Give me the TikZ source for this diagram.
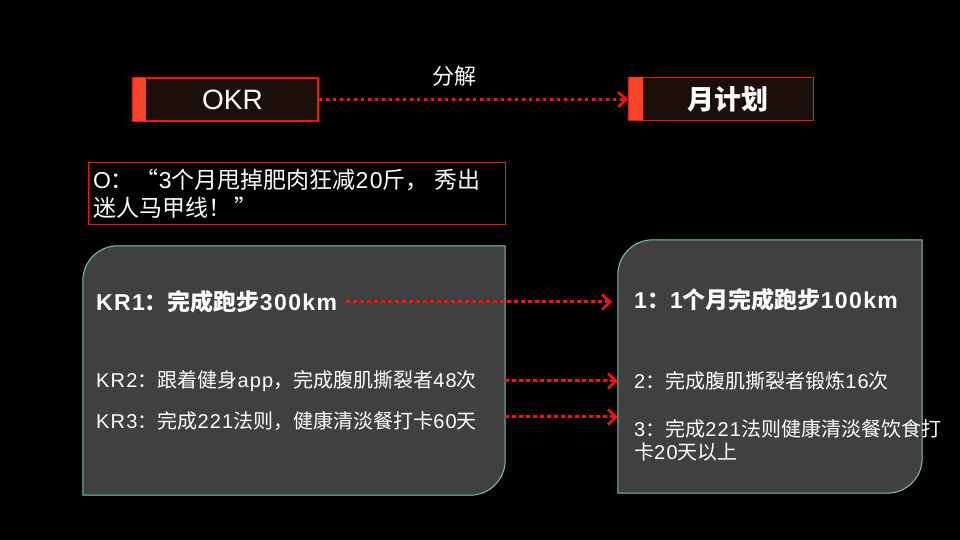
\documentclass[tikz,border=0pt]{standalone}
\usepackage{fontspec}
\setmainfont{Liberation Sans}[LetterSpace=6]
\newfontfamily\cjk{Noto Sans CJK SC}
\usetikzlibrary{positioning, arrows.meta, calc}
\definecolor{okrRed}{HTML}{FF1010}
\definecolor{stripRed}{HTML}{F4452B}
\definecolor{headFill}{HTML}{1C0E0A}
\definecolor{panelFill}{HTML}{404040}
\definecolor{panelEdge}{HTML}{7CC2BB}
\definecolor{arrowRed}{HTML}{FF0F0F}
\tikzset{
  headbox/.style={draw=okrRed, fill=headFill, line width=1.2pt,
    minimum width=185pt, minimum height=43pt, inner sep=0pt,
    text=white, font=\bfseries\fontsize{27}{30}\selectfont},
  obox/.style={draw=okrRed, fill=black, line width=1pt,
    minimum width=417pt, minimum height=62pt, inner xsep=5pt,
    text=white, align=left, font=\fontsize{23}{28}\selectfont},
  geom/.style={minimum width=#1, inner sep=0pt, draw=none},
  panel/.style={draw=panelEdge, fill=panelFill, line width=1pt},
  bigtxt/.style={anchor=west, inner sep=0pt, text=white,
    font=\bfseries\fontsize{23}{26}\selectfont},
  smalltxt/.style={anchor=west, inner sep=0pt, text=white, align=left,
    font=\fontsize{20}{23}\selectfont},
  dotarrow/.style={draw=arrowRed, line width=3pt, line cap=butt,
    dash pattern=on 3.5pt off 3.5pt,
    -{Straight Barb[length=8pt, width=15pt, line width=2.5pt]}},
}

\begin{document}
\begin{tikzpicture}[x=1pt, y=1pt]

  % background, fixes the page size
  \fill[black] (0,0) rectangle (960,540);

  % === Top row: OKR -> monthly plan ===
  \node[headbox, font=\mdseries\fontsize{28}{30}\selectfont\addfontfeatures{LetterSpace=0}] (okr) at (225.5,440.5) {\hspace*{14pt}OKR};
  \node[headbox] (plan) at (721,441) {\hspace*{14pt}\cjk 月计划};
  \fill[stripRed] ([shift={(0.6pt,-0.6pt)}]okr.north west) rectangle ([shift={(14pt,0.6pt)}]okr.south west);
  \fill[stripRed] ([shift={(0.6pt,-0.6pt)}]plan.north west) rectangle ([shift={(15pt,0.6pt)}]plan.south west);

  \draw[dotarrow] (okr.east) -- (okr.east -| plan.west)
    node[pos=0.44, above=8pt, text=white, font=\fontsize{22}{24}\selectfont] (split) {\cjk 分解};

  % === Objective ===
  \node[obox, text width=407pt] (obj) at (296.5,346) {%
    O{\cjk ：\hspace{2pt}“}3{\cjk 个月甩掉肥肉狂减}20{\cjk 斤，\hspace{6pt}秀出}\\
    {\cjk 迷人马甲线！\hspace{4pt}”}};

  % === Left panel: key results ===
  \node[geom=422pt, minimum height=249pt] (krpanel) at (294,169.5) {};
  \draw[panel] ([yshift=-35pt]krpanel.north west) arc[start angle=180, end angle=90, radius=35pt]
    -- (krpanel.north east) -- ([yshift=35pt]krpanel.south east)
    arc[start angle=0, end angle=-90, radius=35pt] -- (krpanel.south west) -- cycle;

  \node[bigtxt] (kr1) at (96,238) {KR1{\cjk ：完成跑步}300km};
  \node[smalltxt] (kr2) at (96,159) {KR2{\cjk ：跟着健身}app{\cjk ，完成腹肌撕裂者}48{\cjk 次}};
  \node[smalltxt] (kr3) at (96,119) {KR3{\cjk ：完成}221{\cjk 法则，健康清淡餐打卡}60{\cjk 天}};

  % === Right panel: monthly plan ===
  \node[geom=304pt, minimum height=253pt] (mpanel) at (770,173.5) {};
  \draw[panel] ([yshift=-35pt]mpanel.north west) arc[start angle=180, end angle=90, radius=35pt]
    -- (mpanel.north east) -- ([yshift=35pt]mpanel.south east)
    arc[start angle=0, end angle=-90, radius=35pt] -- (mpanel.south west) -- cycle;

  \node[bigtxt] (m1) at (634,240) {1{\cjk ：}1{\cjk 个月完成跑步}100km};
  \node[smalltxt] (m2) at (634,159) {2{\cjk ：完成腹肌撕裂者锻炼}16{\cjk 次}};
  \node[smalltxt] (m3) at (634,100) {3{\cjk ：完成}221{\cjk 法则健康清淡餐饮食打}\\{\cjk 卡}20{\cjk 天以上}};

  % === Arrows: key results -> plan items ===
  \draw[dotarrow] ([xshift=9pt]kr1.east) -- ([xshift=-6pt]kr1.east -| mpanel.west);
  \draw[dotarrow] (kr2 -| krpanel.east) -- (kr2 -| mpanel.west);
  \draw[dotarrow] ([yshift=4pt]kr3 -| krpanel.east) -- ([yshift=4pt]kr3 -| mpanel.west);

\end{tikzpicture}
\end{document}
